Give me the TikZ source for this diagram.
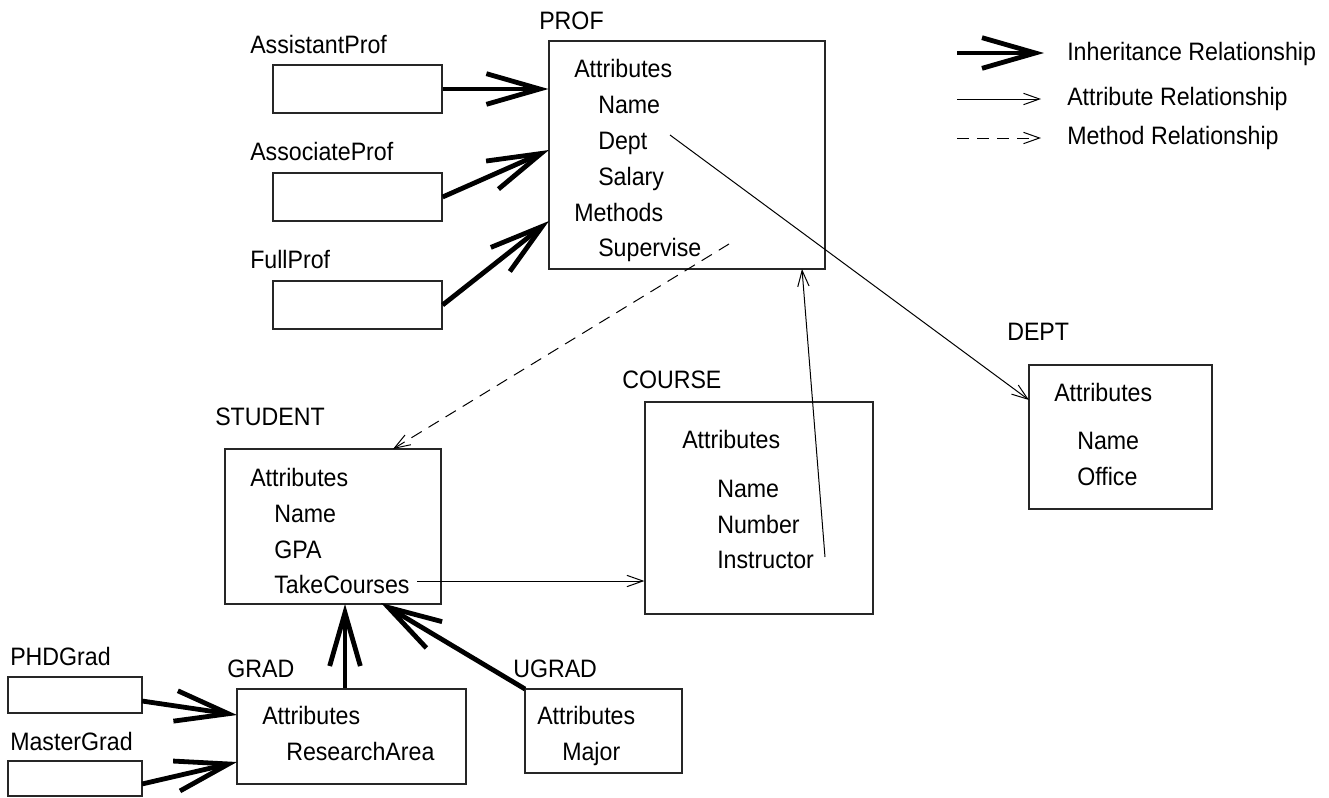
\documentclass[tikz,border=0pt]{standalone}
\usepackage{fontspec}
\setmainfont{Liberation Sans}[FakeStretch=0.92]
\usetikzlibrary{arrows.meta,fit}
\tikzset{
  box/.style={draw=black!85,line width=0.9pt,inner sep=0pt,fill=none},
  txt/.style={anchor=base west,inner sep=0pt,font=\fontsize{18.9pt}{22pt}\selectfont},
  inh/.style={line width=3.6pt,-{Straight Barb[length=40pt,width=23pt]}},
  attr/.style={line width=0.75pt,-{Straight Barb[length=12pt,width=8.5pt]}},
  meth/.style={line width=0.75pt,dash pattern=on 9pt off 6pt,-{Straight Barb[length=12pt,width=8.5pt]}}
}
\begin{document}
\begin{tikzpicture}[x=0.75pt,y=-0.75pt]
\useasboundingbox (0,0) rectangle (1329,797);
% boxes
\node[box,fit={(273,65) (442,113)}] (ap) {};
\node[box,fit={(273,173) (442,221)}] (ac) {};
\node[box,fit={(273,281) (442,329)}] (fp) {};
\node[box,fit={(549,41) (825,269)}] (prof) {};
\node[box,fit={(1029,365) (1212,509)}] (dept) {};
\node[box,fit={(645,402) (873,614)}] (course) {};
\node[box,fit={(225,449) (441,604)}] (student) {};
\node[box,fit={(237,689) (466,784)}] (grad) {};
\node[box,fit={(525,689) (682,773)}] (ugrad) {};
\node[box,fit={(8,677) (142,713)}] (phd) {};
\node[box,fit={(8,761) (142,796)}] (master) {};
% labels
\node[txt] (lprof) at (539,29) {PROF};
\node[txt] (lap) at (250,53) {AssistantProf};
\node[txt] (lac) at (250,160) {AssociateProf};
\node[txt] (lfp) at (250,268) {FullProf};
\node[txt] (p1) at (574,77) {Attributes};
\node[txt] (p2) at (598,113) {Name};
\node[txt] (p3) at (598,149) {Dept};
\node[txt] (p4) at (598,185) {Salary};
\node[txt] (p5) at (574,221) {Methods};
\node[txt] (p6) at (598,256) {Supervise};
\node[txt] (ldept) at (1007,340) {DEPT};
\node[txt] (d1) at (1054,401) {Attributes};
\node[txt] (d2) at (1077,449) {Name};
\node[txt] (d3) at (1077,485) {Office};
\node[txt] (lcourse) at (622,388) {COURSE};
\node[txt] (c1) at (682,448) {Attributes};
\node[txt] (c2) at (717,497) {Name};
\node[txt] (c3) at (717,533) {Number};
\node[txt] (c4) at (717,568) {Instructor};
\node[txt] (lstudent) at (215,425) {STUDENT};
\node[txt] (s1) at (250,486) {Attributes};
\node[txt] (s2) at (274,522) {Name};
\node[txt] (s3) at (274,558) {GPA};
\node[txt] (s4) at (274,593) {TakeCourses};
\node[txt] (lgrad) at (227,677) {GRAD};
\node[txt] (g1) at (262,724) {Attributes};
\node[txt] (g2) at (286,760) {ResearchArea};
\node[txt] (lugrad) at (513,677) {UGRAD};
\node[txt] (u1) at (537,724) {Attributes};
\node[txt] (u2) at (562,760) {Major};
\node[txt] (lphd) at (10,665) {PHDGrad};
\node[txt] (lmaster) at (10,750) {MasterGrad};
% legend
\node[txt] (leg1) at (1067,60) {Inheritance Relationship};
\node[txt] (leg2) at (1067,105) {Attribute Relationship};
\node[txt] (leg3) at (1067,144) {Method Relationship};
\coordinate (l1a) at (957,53);  \coordinate (l1b) at (1044,53);
\coordinate (l2a) at (957,99);  \coordinate (l2b) at (1041,99);
\coordinate (l3a) at (957,138); \coordinate (l3b) at (1041,138);
\draw[inh] (l1a) -- (l1b);
\draw[attr] (l2a) -- (l2b);
\draw[meth] (l3a) -- (l3b);
% connector end points
\coordinate (profA) at (549,150);
\coordinate (profF) at (549,221);
\coordinate (deptS) at (670,135);
\coordinate (deptT) at (1029,400);
\coordinate (instS) at (825,557);
\coordinate (instT) at (802,269);
\coordinate (supS) at (729,244);
\coordinate (supT) at (393,449);
\coordinate (tcS) at (417,581);
\coordinate (gradT) at (345,604);
\coordinate (ugS) at (525,689);
\coordinate (ugT) at (381,603);
\coordinate (phdS) at (142,701);
\coordinate (phdT) at (237,715);
\coordinate (msS) at (142,784);
\coordinate (msT) at (237,762);
% inheritance
\draw[inh] (ap.east) -- (ap.east -| prof.west);
\draw[inh] (ac.east) -- (profA);
\draw[inh] (fp.east) -- (profF);
\draw[inh] (grad.north -| gradT) -- (gradT);
\draw[inh] (ugS) -- (ugT);
\draw[inh] (phdS) -- (phdT);
\draw[inh] (msS) -- (msT);
% attributes
\draw[attr] (deptS) -- (deptT);
\draw[attr] (instS) -- (instT);
\draw[attr] (tcS) -- (tcS -| course.west);
% method
\draw[meth] (supS) -- (supT);
\end{tikzpicture}
\end{document}
